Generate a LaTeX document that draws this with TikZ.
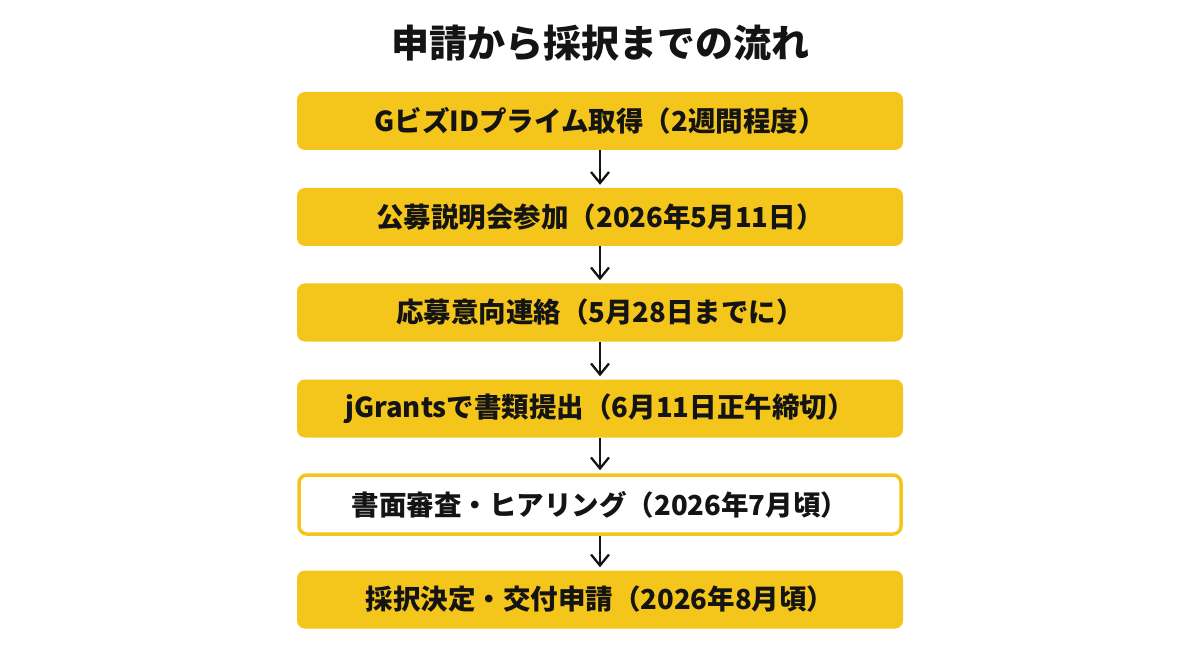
\documentclass[tikz,border=0pt]{standalone}
\usepackage{fontspec}
\setmainfont{Noto Sans CJK JP}
\usetikzlibrary{arrows.meta}
\definecolor{ylw}{HTML}{F4C51B}
\definecolor{ink}{HTML}{141414}
\tikzset{
  stepbox/.style={rounded corners=8pt, minimum width=606pt, minimum height=58pt,
    inner sep=0pt, text=ink, font=\fontsize{27.5}{32}\selectfont\bfseries},
  filledbox/.style={stepbox, fill=ylw},
  openbox/.style={stepbox, fill=white, draw=ylw, line width=3.5pt, minimum width=602pt, minimum height=59pt},
  flow/.style={draw=ink, line width=2.3pt, -{Straight Barb[length=11pt,width=18pt,line width=2.3pt]}},
}
\begin{document}
\begin{tikzpicture}[x=1pt,y=-1pt]
\useasboundingbox (0,0) rectangle (1200,655);
\node[text=ink, font=\fontsize{38}{42}\selectfont\bfseries] (title) at (600,43) {申請から採択までの流れ};
\node[filledbox] (s1) at (600,121) {GビズIDプライム取得（2週間程度）};
\node[filledbox] (s2) at (600,217) {公募説明会参加（2026年5月11日）};
\node[filledbox] (s3) at (600,312.5) {応募意向連絡（5月28日までに）};
\node[filledbox] (s4) at (600,408.5) {jGrantsで書類提出（6月11日正午締切）};
\node[openbox] (s5) at (600,504.5) {書面審査・ヒアリング（2026年7月頃）};
\node[filledbox] (s6) at (600,599.5) {採択決定・交付申請（2026年8月頃）};
\foreach \a/\b in {s1/s2,s2/s3,s3/s4,s4/s5,s5/s6}{
  \draw[flow] (\a.south) -- ([yshift=3pt]\b.north);
}
\end{tikzpicture}
\end{document}
